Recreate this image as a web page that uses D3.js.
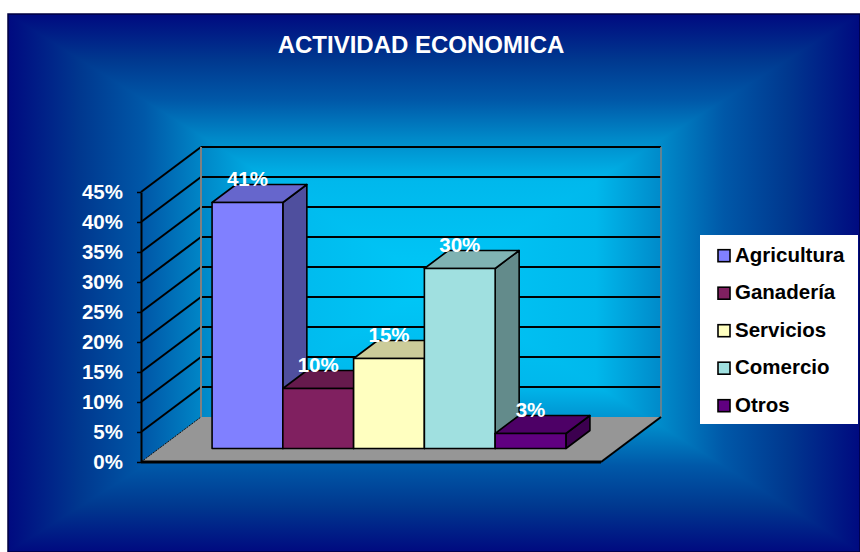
<!doctype html>
<html>
<head>
<meta charset="utf-8">
<script src="https://cdn.jsdelivr.net/npm/d3@7"></script>
<style>
  html, body { margin: 0; padding: 0; background: #fff; }
  svg { display: block; }
</style>
</head>
<body>
<script>
// --- data ---
const TITLE = "ACTIVIDAD ECONOMICA";
const SERIES = ["Agricultura", "Ganadería", "Servicios", "Comercio", "Otros"];
const VALUES = [41, 10, 15, 30, 2.5];
const COLORS = ["#8080ff", "#802060", "#ffffc0", "#a0e0e0", "#600080"];
const Y_TICKS = [0, 5, 10, 15, 20, 25, 30, 35, 40, 45];

const width = 860;
const height = 552;
const FONT = "'Liberation Sans', Arial, Helvetica, sans-serif";

// chart frame (blue panel) and 3D plot box
const frame = { x0: 8, y0: 14, x1: 860, y1: 552 };
const plot = { left: 141, right: 601, bottom: 462, top: 192 };
const DEPTH = { dx: 60, dy: -45 };   // full floor depth
const BAR_Z = [0.3, 0.7];            // bar front/back depth fraction

const rows = SERIES.map((s, i) => ({ name: s, value: VALUES[i], color: COLORS[i] }));

const y = d3.scaleLinear().domain([0, 45]).range([plot.bottom, plot.top]);
const x = d3.scaleBand()
  .domain(SERIES)
  .range([plot.left, plot.right])
  .paddingInner(0)
  .paddingOuter(0.75);

function proj(px, py, z) {
  return [px + DEPTH.dx * z, py + DEPTH.dy * z];
}

function shade(c, k) {
  const r = d3.rgb(c);
  return d3.rgb(r.r * k, r.g * k, r.b * k).formatHex();
}

const line = d3.line();

const svg = d3.select("body")
  .append("svg")
  .attr("width", width)
  .attr("height", height)
  .attr("viewBox", `0 0 ${width} ${height}`)
  .style("font-family", FONT);

svg.append("rect").attr("width", width).attr("height", height).attr("fill", "#fff");

// --- rectangular "from centre" gradient: four edge->centre linear fades, combined with darken ---
const defs = svg.append("defs");
const cx = (frame.x0 + frame.x1) / 2;
const cy = (frame.y0 + frame.y1) / 2;
const stops = [
  [0, "#000a80"],
  [0.17, "#00388f"],
  [0.32, "#0058a8"],
  [0.46, "#0088c8"],
  [0.62, "#00b8ec"],
  [1, "#00c8f8"],
];
const fades = [
  { id: "gT", from: [cx, frame.y0] },
  { id: "gB", from: [cx, frame.y1] },
  { id: "gL", from: [frame.x0, cy] },
  { id: "gR", from: [frame.x1, cy] },
];
fades.forEach((t) => {
  const g = defs.append("linearGradient")
    .attr("id", t.id)
    .attr("gradientUnits", "userSpaceOnUse")
    .attr("x1", t.from[0]).attr("y1", t.from[1])
    .attr("x2", cx).attr("y2", cy);
  stops.forEach(([o, c]) => g.append("stop").attr("offset", o).attr("stop-color", c));
});

svg.append("g")
  .style("isolation", "isolate")
  .selectAll("rect")
  .data(fades)
  .join("rect")
  .attr("x", frame.x0)
  .attr("y", frame.y0)
  .attr("width", frame.x1 - frame.x0)
  .attr("height", frame.y1 - frame.y0)
  .attr("fill", (t) => `url(#${t.id})`)
  .style("mix-blend-mode", (t, i) => (i ? "darken" : "normal"));

svg.append("rect")
  .attr("x", frame.x0).attr("y", frame.y0)
  .attr("width", frame.x1 - frame.x0).attr("height", frame.y1 - frame.y0)
  .attr("fill", "none")
  .attr("stroke", "#000040")
  .attr("stroke-width", 1.5);

// --- walls: gridlines on back wall and left side wall ---
const grid = svg.append("g");
const gridTicks = Y_TICKS.filter((v) => v > 0);

grid.selectAll("path.back")
  .data(gridTicks)
  .join("path")
  .attr("class", "back")
  .attr("d", (v) => line([proj(plot.left, y(v), 1), proj(plot.right, y(v), 1)]))
  .attr("stroke", "#000")
  .attr("stroke-width", 2);

grid.selectAll("path.side")
  .data(gridTicks)
  .join("path")
  .attr("class", "side")
  .attr("d", (v) => line([proj(plot.left, y(v), 0), proj(plot.left, y(v), 1)]))
  .attr("stroke", "#000")
  .attr("stroke-width", 2);

// back wall vertical edges
grid.append("path")
  .attr("d", line([proj(plot.left, y(0), 1), proj(plot.left, y(45), 1)]))
  .attr("stroke", "#808080")
  .attr("stroke-width", 2);
grid.append("path")
  .attr("d", line([proj(plot.right, y(0), 1), proj(plot.right, y(45), 1)]))
  .attr("stroke", "#808080")
  .attr("stroke-width", 1.5);

// --- floor ---
const floorPts = [
  proj(plot.left, y(0), 0),
  proj(plot.right, y(0), 0),
  proj(plot.right, y(0), 1),
  proj(plot.left, y(0), 1),
];
svg.append("path")
  .attr("d", line(floorPts) + "Z")
  .attr("fill", "#969696");
svg.append("path")
  .attr("d", line([floorPts[1], floorPts[2]]))
  .attr("stroke", "#000")
  .attr("stroke-width", 2);
svg.append("path")
  .attr("d", line([floorPts[0], floorPts[3]]))
  .attr("stroke", "#111")
  .attr("stroke-width", 1)
  .attr("stroke-dasharray", "2,1");
svg.append("path")
  .attr("d", line([floorPts[0], floorPts[1]]))
  .attr("stroke", "#000")
  .attr("stroke-width", 3);

// --- bars (left to right so each front face covers the neighbour's side) ---
const [zf, zb] = BAR_Z;
const bars = svg.append("g")
  .selectAll("g")
  .data(rows)
  .join("g")
  .attr("stroke", "#000")
  .attr("stroke-width", 1.6)
  .attr("stroke-linejoin", "round");

bars.append("path")
  .attr("d", (d) => {
    const x1 = x(d.name) + x.bandwidth();
    return line([proj(x1, y(d.value), zf), proj(x1, y(d.value), zb), proj(x1, y(0), zb), proj(x1, y(0), zf)]) + "Z";
  })
  .attr("fill", (d) => shade(d.color, 0.62));

bars.append("path")
  .attr("d", (d) => {
    const x0 = x(d.name);
    const x1 = x0 + x.bandwidth();
    return line([proj(x0, y(d.value), zf), proj(x1, y(d.value), zf), proj(x1, y(d.value), zb), proj(x0, y(d.value), zb)]) + "Z";
  })
  .attr("fill", (d) => shade(d.color, 0.8));

bars.append("path")
  .attr("d", (d) => {
    const x0 = x(d.name);
    const x1 = x0 + x.bandwidth();
    return line([proj(x0, y(d.value), zf), proj(x1, y(d.value), zf), proj(x1, y(0), zf), proj(x0, y(0), zf)]) + "Z";
  })
  .attr("fill", (d) => d.color);

// --- value axis ---
svg.append("g")
  .attr("transform", `translate(${plot.left},0)`)
  .call(d3.axisLeft(y).tickValues(Y_TICKS).tickFormat((d) => `${d}%`).tickSize(4).tickSizeOuter(0).tickPadding(14))
  .call((g) => g.select(".domain").attr("stroke", "#000").attr("stroke-width", 2))
  .call((g) => g.selectAll(".tick line").attr("stroke", "#000").attr("stroke-width", 1.5))
  .call((g) => g.selectAll("text")
    .attr("fill", "#fff")
    .attr("font-family", FONT)
    .attr("font-size", 20.5)
    .attr("font-weight", 700));

// --- data labels ---
svg.append("g")
  .selectAll("text")
  .data(rows)
  .join("text")
  .attr("x", (d) => proj(x(d.name) + x.bandwidth() / 2, 0, zf)[0])
  .attr("y", (d) => proj(0, y(d.value), zf)[1] - 17)
  .attr("text-anchor", "middle")
  .attr("fill", "#fff")
  .attr("font-size", 20.5)
  .attr("font-weight", 700)
  .text((d) => `${Math.round(d.value)}%`);

// --- title ---
svg.append("text")
  .attr("x", 421)
  .attr("y", 53)
  .attr("text-anchor", "middle")
  .attr("fill", "#fff")
  .attr("font-size", 24)
  .attr("font-weight", 700)
  .text(TITLE);

// --- legend ---
const legend = svg.append("g").attr("transform", "translate(700,235)");
legend.append("rect")
  .attr("width", 158)
  .attr("height", 189)
  .attr("fill", "#fff");

const item = legend.selectAll("g")
  .data(rows)
  .join("g")
  .attr("transform", (d, i) => `translate(0,${26.7 + i * 37.5})`);

item.append("rect")
  .attr("x", 18)
  .attr("y", -12)
  .attr("width", 12)
  .attr("height", 12)
  .attr("fill", (d) => d.color)
  .attr("stroke", "#000")
  .attr("stroke-width", 1.6);

item.append("text")
  .attr("x", 35)
  .attr("y", 0)
  .attr("fill", "#000")
  .attr("font-size", 20.5)
  .attr("font-weight", 700)
  .text((d) => d.name);
</script>
</body>
</html>
